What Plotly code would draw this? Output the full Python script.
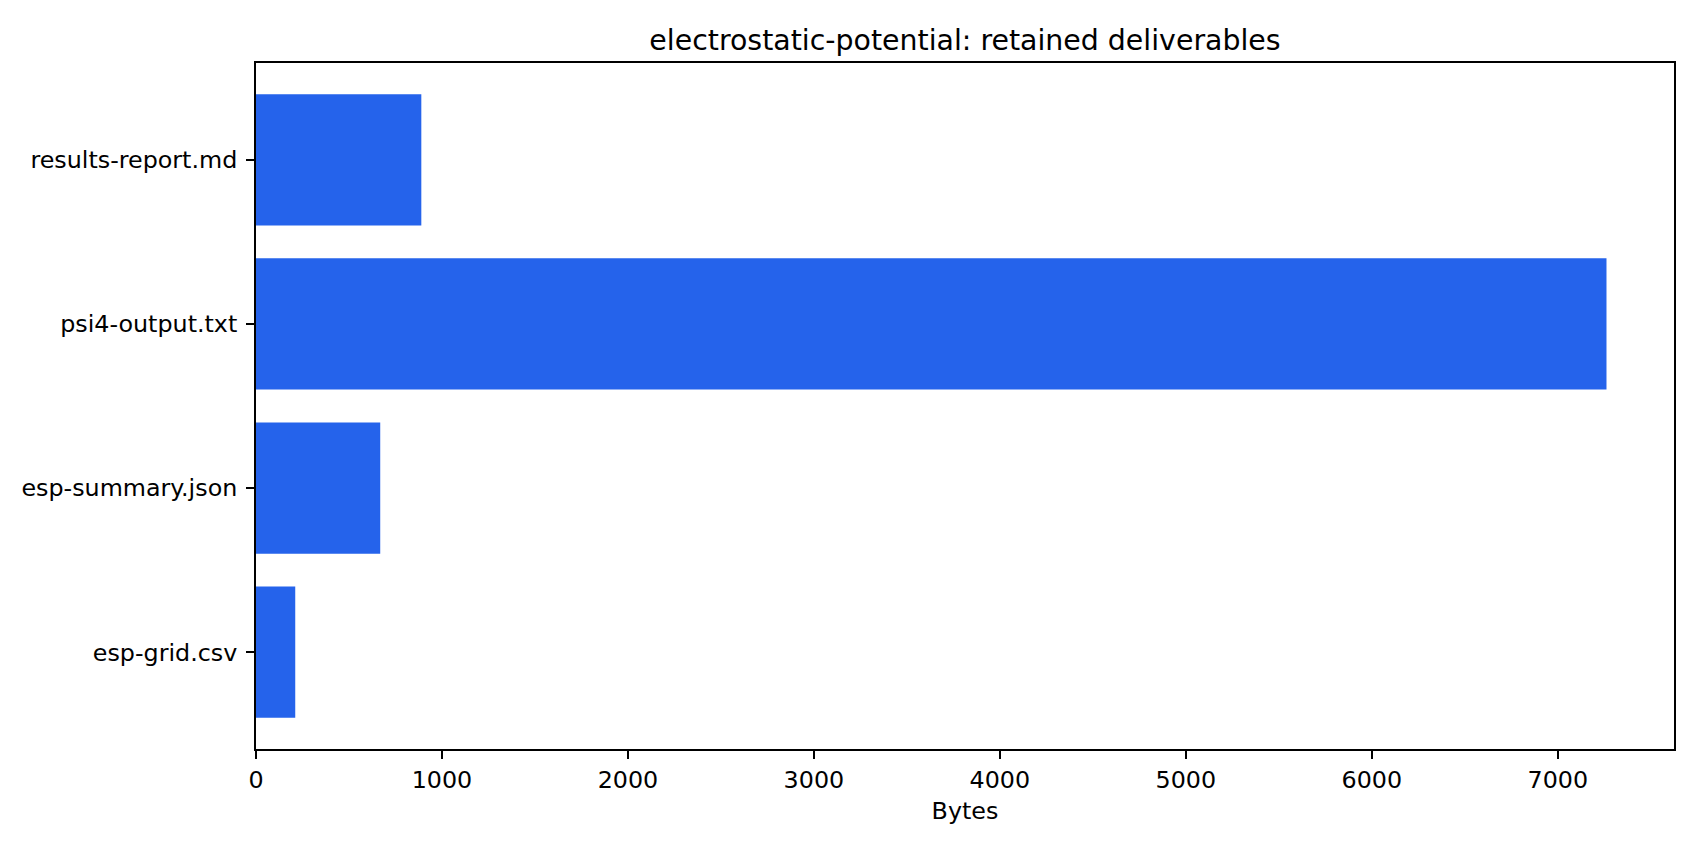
import plotly.graph_objects as go

# deliverables kept for the run, bottom to top as drawn
files = ["esp-grid.csv", "esp-summary.json", "psi4-output.txt", "results-report.md"]
sizes = [211, 668, 7262, 889]
x_ticks = [0, 1000, 2000, 3000, 4000, 5000, 6000, 7000]

bar_colour = "#2563eb"
font_name = "DejaVu Sans"

fig = go.Figure()
fig.add_trace(go.Bar(x=sizes, y=files, orientation="h",
                     marker=dict(color=bar_colour, line=dict(width=0)),
                     showlegend=False))

# page body adds ~8px, so margins are shifted up/left by that much
fig.update_layout(
    width=1700, height=850,
    margin=dict(l=248, r=34, t=55, b=109),
    paper_bgcolor="white", plot_bgcolor="white",
    bargap=0.2,
    font=dict(family=font_name, size=23.8, color="black"),
    title=dict(text="electrostatic-potential: retained deliverables",
               x=0.5, xref="paper", xanchor="center",
               y=1 - 32 / 850, yref="container", yanchor="middle",
               font=dict(size=28.4, color="black")),
)
fig.update_xaxes(range=[0, 7625], tickvals=x_ticks, ticks="outside", ticklen=8,
                 tickwidth=1.9, tickcolor="black", showgrid=False, zeroline=False,
                 showline=True, linecolor="black", linewidth=1.9, mirror=True,
                 title=dict(text="Bytes", standoff=10, font=dict(size=23.8)))
fig.update_yaxes(categoryorder="array", categoryarray=files, range=[-0.59, 3.59],
                 ticks="outside", ticklen=8, tickwidth=1.9, tickcolor="black",
                 ticklabelstandoff=4,
                 showgrid=False, zeroline=False, showline=True, linecolor="black",
                 linewidth=1.9, mirror=True)

fig.write_html("out.html")
